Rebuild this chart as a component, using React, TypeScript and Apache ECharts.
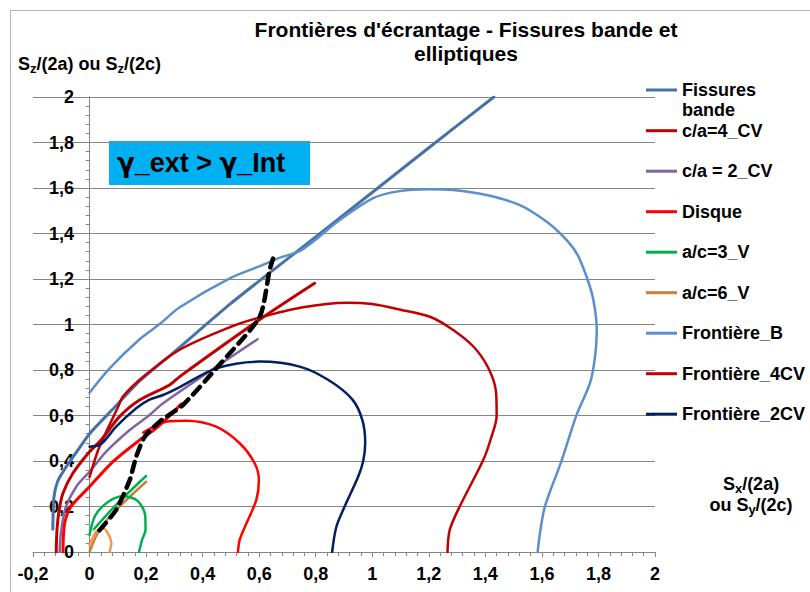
import { useEffect, useRef } from 'react';
import * as echarts from 'echarts';

const FONT = "'Liberation Sans', Arial, sans-serif";

// Tick values / labels
const xTicks = [-0.2, 0, 0.2, 0.4, 0.6, 0.8, 1, 1.2, 1.4, 1.6, 1.8, 2];
const xTickLabels = ['-0,2', '0', '0,2', '0,4', '0,6', '0,8', '1', '1,2', '1,4', '1,6', '1,8', '2'];
const yTicks = [0, 0.2, 0.4, 0.6, 0.8, 1, 1.2, 1.4, 1.6, 1.8, 2];
const yTickLabels = ['0', '0,2', '0,4', '0,6', '0,8', '1', '1,2', '1,4', '1,6', '1,8', '2'];

// Legend names
const legendFirst = ['Fissures bande'];
const legendRest = ['c/a=4_CV', 'c/a = 2_CV', 'Disque', 'a/c=3_V', 'a/c=6_V', 'Frontière_B', 'Frontière_4CV', 'Frontière_2CV'];

// Series data
const fissuresBandeX = [-0.13, -0.126, -0.113, -0.085, -0.04, 0, 0.08, 0.18, 0.3, 0.5, 0.8, 1.19, 1.43];
const fissuresBandeY = [0.1, 0.24, 0.31, 0.37, 0.45, 0.52, 0.625, 0.755, 0.88, 1.093, 1.385, 1.767, 2.0];

const ca4X = [-0.118, -0.115, -0.108, -0.094, -0.059, 0, 0.041, 0.106, 0.177, 0.283, 0.319, 0.6, 0.796];
const ca4Y = [0, 0.1, 0.18, 0.258, 0.346, 0.441, 0.492, 0.595, 0.668, 0.734, 0.771, 1.02, 1.181];

const ca2X = [-0.106, -0.1, -0.083, -0.047, 0, 0.059, 0.142, 0.212, 0.26, 0.594];
const ca2Y = [0, 0.097, 0.2, 0.287, 0.353, 0.441, 0.536, 0.602, 0.654, 0.935];

const disqueX = [-0.094, -0.088, -0.065, 0, 0.083, 0.177, 0.236, 0.325];
const disqueY = [0, 0.126, 0.2, 0.287, 0.397, 0.492, 0.544, 0.651];

const ac3X = [0.015, 0.1, 0.2];
const ac3Y = [0.1, 0.215, 0.334];

const ac6X = [0, 0.035, 0.094, 0.2];
const ac6Y = [0, 0.097, 0.185, 0.309];

const frontBX = [0, 0.071, 0.177, 0.248, 0.319, 0.496, 0.613, 0.667, 0.749, 0.885, 1.003, 1.086, 1.2, 1.286, 1.404, 1.522, 1.617, 1.676, 1.723, 1.758, 1.782, 1.794, 1.788, 1.77, 1.723, 1.67, 1.611, 1.593, 1.585];
const frontBY = [0.7, 0.807, 0.935, 1.002, 1.076, 1.203, 1.262, 1.291, 1.327, 1.459, 1.555, 1.584, 1.594, 1.591, 1.569, 1.525, 1.452, 1.386, 1.313, 1.21, 1.108, 0.976, 0.859, 0.742, 0.604, 0.403, 0.202, 0.082, 0];

const front4X = [0, 0.035, 0.1, 0.118, 0.19, 0.32, 0.5, 0.6, 0.75, 0.909, 1.0, 1.1, 1.204, 1.286, 1.36, 1.41, 1.437, 1.44, 1.42, 1.392, 1.31, 1.274, 1.266];
const front4Y = [0.33, 0.463, 0.635, 0.683, 0.77, 0.89, 0.99, 1.03, 1.075, 1.096, 1.09, 1.065, 1.034, 0.976, 0.9, 0.81, 0.71, 0.6, 0.5, 0.403, 0.202, 0.097, 0];

const front2X = [0, 0.041, 0.094, 0.165, 0.212, 0.26, 0.319, 0.448, 0.602, 0.743, 0.845, 0.93, 0.965, 0.975, 0.968, 0.95, 0.903, 0.873, 0.858];
const front2Y = [0.463, 0.475, 0.551, 0.632, 0.67, 0.69, 0.725, 0.807, 0.837, 0.815, 0.756, 0.67, 0.58, 0.48, 0.4, 0.331, 0.202, 0.111, 0];

const disqueArcX = [0.19, 0.271, 0.342, 0.448, 0.531, 0.584, 0.599, 0.59, 0.555, 0.531, 0.525];
const disqueArcY = [0.525, 0.573, 0.577, 0.551, 0.478, 0.39, 0.316, 0.229, 0.126, 0.053, 0];

const ac3ArcX = [0, 0.02, 0.065, 0.12, 0.17, 0.197, 0.198, 0.185, 0.175];
const ac3ArcY = [0.075, 0.16, 0.22, 0.245, 0.225, 0.16, 0.1, 0.05, 0];

const ac6ArcX = [0, 0.024, 0.047, 0.065, 0.077, 0.071];
const ac6ArcY = [0.03, 0.09, 0.104, 0.082, 0.038, 0];

const dashX = [0.035, 0.094, 0.142, 0.165, 0.195, 0.248, 0.33, 0.448, 0.602, 0.637, 0.649];
const dashY = [0.095, 0.185, 0.316, 0.419, 0.507, 0.573, 0.646, 0.807, 1.034, 1.24, 1.29];

const zip = (xs: number[], ys: number[]) => xs.map((x, i) => [x, ys[i]]);

const labelFor = (ticks: number[], labels: string[]) => (v: number) => {
  const i = ticks.findIndex((t) => Math.abs(t - v) < 1e-6);
  return i >= 0 ? labels[i] : '';
};

const lineSeries = (name: string, xs: number[], ys: number[], color: string, width: number, extra: any = {}) => ({
  name,
  type: 'line',
  data: zip(xs, ys),
  symbol: 'none',
  smooth: 0.3,
  itemStyle: { color },
  lineStyle: { color, width, cap: 'round', join: 'round' },
  ...extra,
});

const axisGray = '#868686';

export default function App() {
  const ref = useRef<HTMLDivElement>(null);

  useEffect(() => {
    if (!ref.current) return;
    const chart = echarts.init(ref.current, undefined, { renderer: 'svg' });

    const richName = {
      m: { fontSize: 18, fontWeight: 'bold', fontFamily: FONT, color: '#000', lineHeight: 22 },
      s: { fontSize: 13, fontWeight: 'bold', fontFamily: FONT, color: '#000', lineHeight: 12, verticalAlign: 'bottom' },
    };

    const option: any = {
      animation: false,
      backgroundColor: '#fff',
      title: {
        text: "Frontières d'écrantage - Fissures bande et\nelliptiques",
        left: 466,
        top: 17,
        padding: 0,
        textAlign: 'center',
        textStyle: { fontFamily: FONT, fontWeight: 'bold', fontSize: 21, lineHeight: 24, color: '#000' },
      },
      grid: { left: 33, right: 155, top: 97, bottom: 40, containLabel: false, outerBoundsMode: 'none' },
      legend: [
        {
          data: legendFirst,
          orient: 'vertical',
          left: 646,
          top: 60,
          padding: 0,
          icon: 'rect',
          itemWidth: 31,
          itemHeight: 3,
          itemStyle: { borderWidth: 0 },
          formatter: () => '\nFissures\nbande',
          textStyle: { fontFamily: FONT, fontWeight: 'bold', fontSize: 18, lineHeight: 20, color: '#000' },
        },
        {
          data: legendRest,
          orient: 'vertical',
          left: 646,
          top: 121.7,
          padding: 0,
          itemGap: 22.5,
          icon: 'rect',
          itemWidth: 31,
          itemHeight: 3,
          itemStyle: { borderWidth: 0 },
          textStyle: { fontFamily: FONT, fontWeight: 'bold', fontSize: 18, lineHeight: 18, color: '#000' },
        },
      ],
      xAxis: {
        type: 'value',
        min: -0.2,
        max: 2,
        interval: 0.2,
        axisLine: { show: true, onZero: true, lineStyle: { color: axisGray, width: 1 } },
        axisTick: { show: true, length: 5, lineStyle: { color: axisGray } },
        minorTick: { show: true, splitNumber: 5, length: 4, lineStyle: { color: axisGray } },
        splitLine: { show: false },
        axisLabel: {
          formatter: labelFor(xTicks, xTickLabels),
          margin: 13,
          fontFamily: FONT,
          fontWeight: 'bold',
          fontSize: 18,
          color: '#000',
        },
      },
      yAxis: {
        type: 'value',
        min: 0,
        max: 2,
        interval: 0.2,
        axisLine: { show: true, onZero: true, lineStyle: { color: axisGray, width: 1 } },
        axisTick: { show: true, length: 5, lineStyle: { color: axisGray } },
        minorTick: { show: true, splitNumber: 5, length: 4, lineStyle: { color: axisGray } },
        splitLine: { show: true, lineStyle: { color: axisGray, width: 1 } },
        axisLabel: {
          formatter: labelFor(yTicks, yTickLabels),
          margin: -41,
          align: 'right',
          fontFamily: FONT,
          fontWeight: 'bold',
          fontSize: 18,
          color: '#000',
        },
        name: '{m|S}{s|z}{m|/(2a) ou S}{s|z}{m|/(2c)}',
        nameLocation: 'end',
        nameGap: 22,
        nameTextStyle: { rich: richName },
      },
      graphic: [
        {
          type: 'rect',
          z: -10,
          shape: { x: 10.5, y: 10.5, width: 900, height: 700 },
          style: { fill: 'none', stroke: '#B4B4B4', lineWidth: 1 },
        },
        {
          type: 'rect',
          shape: { x: 109, y: 141, width: 201, height: 44 },
          style: { fill: '#00B0F0' },
        },
        {
          type: 'text',
          x: 117,
          y: 163,
          style: {
            text: '{g|γ}{t|_ext > }{g|γ}{t|_Int}',
            rich: {
              g: { fontFamily: "'DejaVu Sans', sans-serif", fontWeight: 'bold', fontSize: 26, color: '#000', lineHeight: 32 },
              t: { fontFamily: FONT, fontWeight: 'bold', fontSize: 27, color: '#000', lineHeight: 32 },
            },
            verticalAlign: 'middle',
            align: 'left',
          },
        },
        {
          type: 'text',
          x: 751,
          y: 484,
          style: {
            text: '{m|S}{s|x}{m|/(2a)}',
            rich: richName,
            align: 'center',
            verticalAlign: 'middle',
          },
        },
        {
          type: 'text',
          x: 751,
          y: 505,
          style: {
            text: '{m|ou S}{s|y}{m|/(2c)}',
            rich: richName,
            align: 'center',
            verticalAlign: 'middle',
          },
        },
      ],
      series: [
        lineSeries('Fissures bande', fissuresBandeX, fissuresBandeY, '#4672A8', 3, { smooth: 0.2 }),
        lineSeries('c/a=4_CV', ca4X, ca4Y, '#C00000', 3),
        lineSeries('c/a = 2_CV', ca2X, ca2Y, '#8064A2', 2.5),
        lineSeries('Disque', disqueX, disqueY, '#FF0000', 3),
        lineSeries('a/c=3_V', ac3X, ac3Y, '#00B050', 2.5),
        lineSeries('a/c=6_V', ac6X, ac6Y, '#C8803F', 2.5),
        lineSeries('Frontière_B', frontBX, frontBY, '#5A8FCC', 2.5),
        lineSeries('Frontière_4CV', front4X, front4Y, '#C00000', 2.5),
        lineSeries('Frontière_2CV', front2X, front2Y, '#002060', 2.5),
        lineSeries('Frontière_Disque', disqueArcX, disqueArcY, '#FF0000', 2.5),
        lineSeries('Frontière_3V', ac3ArcX, ac3ArcY, '#00B050', 2.5),
        lineSeries('Frontière_6V', ac6ArcX, ac6ArcY, '#F79646', 2.5),
        lineSeries('Limite', dashX, dashY, '#000000', 4.5, {
          smooth: 0.2,
          lineStyle: { color: '#000', width: 4.5, type: [10, 7], cap: 'round' },
        }),
      ],
    };

    chart.setOption(option);
    return () => chart.dispose();
  }, []);

  return (
    <div
      ref={ref}
      style={{ position: 'fixed', left: 0, top: 0, width: 810, height: 592, background: '#fff' }}
    />
  );
}
